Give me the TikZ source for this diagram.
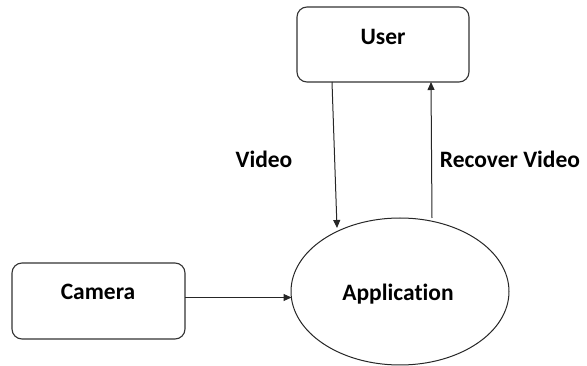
\documentclass[tikz,border=0pt]{standalone}
\usepackage{fontspec}
\setmainfont[Ligatures={NoCommon}]{Carlito}
\usetikzlibrary{arrows.meta,shapes.geometric}
\begin{document}
\begin{tikzpicture}[x=1pt,y=-1pt,
  box/.style={draw=black!80,line width=1.1pt,rounded corners=10pt,inner sep=0pt},
  lbl/.style={font=\bfseries\fontsize{23.5}{28}\selectfont,inner sep=0pt},
  flow/.style={draw=black!85,line width=1pt,-{Triangle[length=8pt,width=7pt]}}]
\useasboundingbox (0,0) rectangle (587,366);
% boxes
\node[box,minimum width=172pt,minimum height=75pt] (user) at (383,44.5) {};
\node[lbl] (usertext) at (383,37) {User};
\node[box,minimum width=173pt,minimum height=76pt] (camera) at (98.5,301) {};
\node[lbl] (cameratext) at (98,292) {Camera};
\node[draw=black!85,line width=1pt,ellipse,minimum width=218pt,minimum height=147pt,inner sep=0pt] (app) at (400,291.5) {};
\node[lbl] (apptext) at (398,294) {Application};
% connector end points
\coordinate (vin) at (332,82);
\coordinate (vout) at (337,228);
\coordinate (rin) at (432,218);
\coordinate (rout) at (431,82);
\coordinate (cin) at (185,297.5);
\coordinate (cout) at (291.5,297.5);
\draw[flow] (vin) -- (vout);
\draw[flow] (rin) -- (rout);
\draw[flow] (cin) -- (cout);
% connector labels
\node[lbl] (vlabel) at (264,159) {Video};
\node[lbl] (rlabel) at (510,159) {Recover Video};
\end{tikzpicture}
\end{document}
